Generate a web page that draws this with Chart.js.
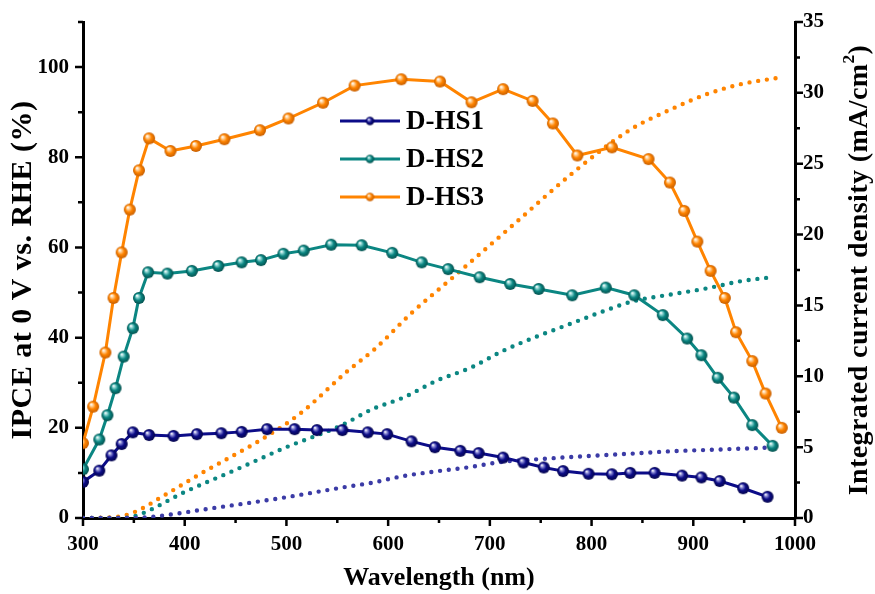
<!DOCTYPE html>
<html>
<head>
<meta charset="utf-8">
<title>IPCE and integrated current density</title>
<script src="https://cdn.jsdelivr.net/npm/chart.js@4.4.0/dist/chart.umd.min.js"></script>
<style>
  body { margin: 0; background: #fff; }
  #wrap { width: 875px; height: 594px; }
</style>
</head>
<body>
<div id="wrap"><canvas id="ipceChart" width="875" height="594"></canvas></div>
<script>
/* global Chart */

// IPCE (%) for each sample, against wavelength (nm)
const wlHS1 = [300, 316, 328, 338, 349, 365, 389, 412, 436, 456, 481, 508, 530, 555, 580, 599, 623, 646, 671, 689, 713, 733, 753, 772, 797, 820, 838, 862, 889, 908, 926, 949, 973];
const ipceHS1 = [8.0, 10.5, 13.9, 16.4, 19.0, 18.4, 18.2, 18.6, 18.8, 19.1, 19.7, 19.7, 19.5, 19.5, 19.0, 18.6, 17.0, 15.7, 14.9, 14.4, 13.4, 12.3, 11.2, 10.4, 9.8, 9.7, 10.0, 10.0, 9.4, 9.0, 8.2, 6.6, 4.7];

const wlHS2 = [300, 316, 324, 332, 340, 349, 355, 364, 383, 407, 433, 456, 475, 497, 517, 544, 574, 604, 633, 659, 690, 720, 748, 781, 814, 842, 870, 894, 908, 924, 940, 958, 978];
const ipceHS2 = [10.8, 17.4, 22.8, 28.8, 35.8, 42.1, 48.8, 54.5, 54.2, 54.8, 55.9, 56.7, 57.2, 58.6, 59.3, 60.6, 60.5, 58.8, 56.7, 55.2, 53.4, 51.9, 50.8, 49.4, 51.1, 49.4, 45.0, 39.8, 36.1, 31.1, 26.7, 20.6, 16.0];

const wlHS3 = [300, 310, 322, 330, 338, 346, 355, 365, 386, 411, 439, 474, 502, 536, 567, 613, 651, 682, 713, 742, 762, 786, 820, 856, 877, 891, 904, 917, 931, 942, 958, 971, 987];
const ipceHS3 = [16.6, 24.7, 36.7, 48.8, 58.9, 68.4, 77.1, 84.2, 81.4, 82.5, 84.0, 86.0, 88.6, 92.1, 95.9, 97.3, 96.8, 92.2, 95.1, 92.5, 87.5, 80.4, 82.2, 79.6, 74.4, 68.1, 61.3, 54.8, 48.8, 41.2, 34.8, 27.6, 20.0];

// integrated current density (mA/cm2), right axis
const jWlHS1 = [300, 350, 366, 428, 494, 559, 585, 615, 648, 681, 713, 746, 779, 812, 844, 880, 913, 946, 973];
const jHS1 = [0, 0, 0.07, 0.7, 1.4, 2.2, 2.5, 2.96, 3.3, 3.6, 3.97, 4.14, 4.3, 4.44, 4.56, 4.72, 4.8, 4.89, 4.96];

const jWlHS2 = [300, 340, 356, 399, 450, 500, 553, 585, 615, 648, 681, 713, 746, 779, 812, 841, 880, 913, 946, 978];
const jHS2 = [0, 0, 0.26, 1.8, 3.4, 5.0, 6.5, 7.7, 8.5, 9.7, 10.6, 11.8, 12.8, 13.7, 14.6, 15.3, 15.8, 16.2, 16.7, 17.0];

const jWlHS3 = [300, 330, 350, 380, 415, 450, 470, 514, 559, 588, 622, 664, 720, 784, 838, 880, 913, 946, 987];
const jHS3 = [0, 0.05, 0.4, 1.6, 3.1, 4.5, 5.3, 7.4, 10.3, 12.0, 14.4, 17.0, 20.5, 24.5, 27.4, 28.9, 29.9, 30.6, 31.1];

const sampleNames = ['D-HS1', 'D-HS2', 'D-HS3'];

// axis ticks
const xTicks = [300, 400, 500, 600, 700, 800, 900, 1000];
const leftTicks = [0, 20, 40, 60, 80, 100];
const rightTicks = [0, 5, 10, 15, 20, 25, 30, 35];

const FONT = "'Liberation Serif', 'Times New Roman', serif";
const navy = '#0c0c88';
const teal = '#0b8682';
const orange = '#ff8400';

// shaded ball used as the point marker
function makeBall(base, light, dark, r) {
    const size = Math.ceil(r * 2 + 2);
    const c = document.createElement('canvas');
    c.width = c.height = size;
    const g = c.getContext('2d');
    const cx = size / 2, cy = size / 2;
    const grad = g.createRadialGradient(cx - r * 0.35, cy - r * 0.4, r * 0.05, cx, cy, r);
    grad.addColorStop(0, '#ffffff');
    grad.addColorStop(0.22, light);
    grad.addColorStop(0.55, base);
    grad.addColorStop(1, dark);
    g.fillStyle = grad;
    g.beginPath();
    g.arc(cx, cy, r, 0, Math.PI * 2);
    g.fill();
    return c;
}

const balls = [
    makeBall(navy, '#8c8cd6', '#04044a', 6),
    makeBall(teal, '#8fd6d2', '#03504d', 6),
    makeBall(orange, '#ffd29a', '#c65e00', 6)
];
const legendBalls = [
    makeBall(navy, '#8c8cd6', '#04044a', 4.2),
    makeBall(teal, '#8fd6d2', '#03504d', 4.2),
    makeBall(orange, '#ffd29a', '#c65e00', 4.2)
];

function pairs(xs, ys) {
    return xs.map((x, i) => ({ x: x, y: ys[i] }));
}

function ipceSet(i, xs, ys, color) {
    return {
        label: sampleNames[i],
        data: pairs(xs, ys),
        yAxisID: 'y',
        borderColor: color,
        backgroundColor: color,
        borderWidth: 3,
        tension: 0,
        pointStyle: balls[i],
        pointRadius: 6,
        clip: { left: 0, top: false, right: false, bottom: false },
        order: 1
    };
}

function jSet(xs, ys, color) {
    return {
        label: '',
        data: pairs(xs, ys),
        yAxisID: 'y1',
        borderColor: color,
        borderWidth: 4.4,
        borderDash: [0, 8.8],
        borderCapStyle: 'round',
        cubicInterpolationMode: 'monotone',
        pointRadius: 0,
        order: 2
    };
}

// vertical title, bottom-to-top, optional superscript piece
function drawVTitle(ctx, cx, cy, size, spacing, parts) {
    ctx.save();
    ctx.translate(cx, cy);
    ctx.rotate(-Math.PI / 2);
    ctx.textBaseline = 'middle';
    ctx.textAlign = 'left';
    ctx.fillStyle = '#000';
    if ('letterSpacing' in ctx) ctx.letterSpacing = spacing + 'px';
    const widths = parts.map(p => {
        ctx.font = 'bold ' + (p.sup ? size * 0.62 : size) + 'px ' + FONT;
        return ctx.measureText(p.text).width;
    });
    let sx = -widths.reduce((a, b) => a + b, 0) / 2;
    parts.forEach((p, i) => {
        ctx.font = 'bold ' + (p.sup ? size * 0.62 : size) + 'px ' + FONT;
        ctx.fillText(p.text, sx, p.sup ? -size * 0.36 : 0);
        sx += widths[i];
    });
    ctx.restore();
}

// tick marks (major + minor) drawn outside the axes, plus the y titles
const tickPlugin = {
    id: 'axisTicks',
    afterDraw(chart) {
        const { ctx, chartArea } = chart;
        const x = chart.scales.x, y = chart.scales.y, y1 = chart.scales.y1;
        ctx.save();
        ctx.strokeStyle = '#000';
        ctx.lineWidth = 2.5;
        ctx.beginPath();
        for (let v = 300; v <= 1000; v += 50) {
            const px = x.getPixelForValue(v);
            const len = v % 100 === 0 ? 8 : 5;
            ctx.moveTo(px, chartArea.bottom);
            ctx.lineTo(px, chartArea.bottom + len);
        }
        for (let v = 0; v <= 110; v += 10) {
            const py = y.getPixelForValue(v);
            const len = v % 20 === 0 ? 8 : 5;
            ctx.moveTo(chartArea.left, py);
            ctx.lineTo(chartArea.left - len, py);
        }
        for (let v = 0; v <= 35; v += 2.5) {
            const py = y1.getPixelForValue(v);
            const len = v % 5 === 0 ? 8 : 5;
            ctx.moveTo(chartArea.right, py);
            ctx.lineTo(chartArea.right + len, py);
        }
        ctx.stroke();
        ctx.restore();

        const midY = (chartArea.top + chartArea.bottom) / 2;
        drawVTitle(ctx, 23, midY, 30, 0.5, [{ text: 'IPCE at 0 V vs. RHE (%)' }]);
        drawVTitle(ctx, 860, midY, 28, 0.4, [
            { text: 'Integrated current density (mA/cm' },
            { text: '2', sup: true },
            { text: ')' }
        ]);
    }
};

// legend for the three IPCE curves inside the plot
const legendPlugin = {
    id: 'innerLegend',
    afterDatasetsDraw(chart) {
        const ctx = chart.ctx;
        const colors = [navy, teal, orange];
        ctx.save();
        ctx.font = 'bold 27px ' + FONT;
        ctx.textBaseline = 'middle';
        ctx.fillStyle = '#000';
        for (let i = 0; i < 3; i++) {
            const ly = 121 + i * 38;
            ctx.strokeStyle = colors[i];
            ctx.lineWidth = 3;
            ctx.beginPath();
            ctx.moveTo(340, ly);
            ctx.lineTo(400, ly);
            ctx.stroke();
            const b = legendBalls[i];
            ctx.drawImage(b, 370 - b.width / 2, ly - b.height / 2);
            ctx.fillText(sampleNames[i], 406, ly + 1);
        }
        ctx.restore();
    }
};

function fixedTicks(list) {
    return scale => { scale.ticks = list.map(v => ({ value: v })); };
}

function noEdgePadding(scale) {
    scale.paddingTop = 0;
    scale.paddingBottom = 0;
    scale.paddingLeft = 0;
    scale.paddingRight = 0;
}

const tickFont = { family: FONT, size: 21, weight: 'bold' };
const titleFont = { family: FONT, size: 26, weight: 'bold' };
const plainLabel = v => String(v);

const ctx = document.getElementById('ipceChart').getContext('2d');
const chart = new Chart(ctx, {
    type: 'line',
    data: {
        datasets: [
            ipceSet(0, wlHS1, ipceHS1, navy),
            ipceSet(1, wlHS2, ipceHS2, teal),
            ipceSet(2, wlHS3, ipceHS3, orange),
            jSet(jWlHS1, jHS1, '#3b3ba6'),
            jSet(jWlHS2, jHS2, teal),
            jSet(jWlHS3, jHS3, orange)
        ]
    },
    options: {
        responsive: false,
        animation: false,
        layout: { padding: { top: 22, left: 0, right: 0, bottom: 0 } },
        plugins: {
            legend: { display: false },
            tooltip: { enabled: false }
        },
        scales: {
            x: {
                type: 'linear',
                min: 300,
                max: 1000,
                afterBuildTicks: fixedTicks(xTicks),
                afterFit: s => { s.height = 76; noEdgePadding(s); },
                grid: { display: true, drawOnChartArea: false, drawTicks: false },
                border: { display: true, color: '#000', width: 3 },
                ticks: { color: '#000', font: tickFont, padding: 14, maxRotation: 0, callback: plainLabel },
                title: { display: true, text: 'Wavelength (nm)', color: '#000', font: titleFont, padding: { top: 0, bottom: 0 } }
            },
            y: {
                position: 'left',
                min: 0,
                max: 110,
                afterBuildTicks: fixedTicks(leftTicks),
                afterFit: s => { s.width = 83; noEdgePadding(s); },
                grid: { display: true, drawOnChartArea: false, drawTicks: false },
                border: { display: true, color: '#000', width: 3 },
                ticks: { color: '#000', font: tickFont, padding: 14, callback: plainLabel }
            },
            y1: {
                position: 'right',
                min: 0,
                max: 35,
                afterBuildTicks: fixedTicks(rightTicks),
                afterFit: s => { s.width = 80; noEdgePadding(s); },
                grid: { display: true, drawOnChartArea: false, drawTicks: false },
                border: { display: true, color: '#000', width: 3 },
                ticks: { color: '#000', font: tickFont, padding: 8, callback: plainLabel }
            }
        }
    },
    plugins: [tickPlugin, legendPlugin]
});
</script>
</body>
</html>
